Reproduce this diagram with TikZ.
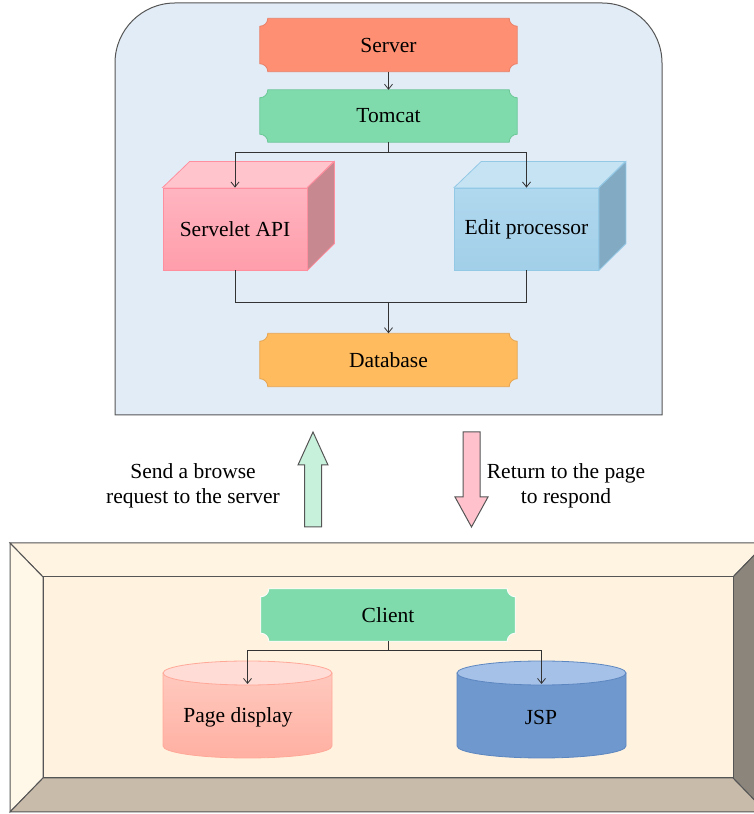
\documentclass[tikz,border=0pt]{standalone}
\usepackage{fontspec}
\setmainfont{Liberation Serif}
\usetikzlibrary{arrows.meta,calc}
\pgfdeclarelayer{back}
\pgfdeclarelayer{mid}
\pgfsetlayers{back,mid,main}

\definecolor{panelfill}{HTML}{E2ECF7}
\definecolor{edgec}{HTML}{555555}
\definecolor{wirec}{HTML}{333333}
\definecolor{serverfill}{HTML}{FF8F73}
\definecolor{serveredge}{HTML}{E98068}
\definecolor{mint}{HTML}{7FDBAB}
\definecolor{mintedge}{HTML}{6CC797}
\definecolor{dbfill}{HTML}{FFBB5D}
\definecolor{dbedge}{HTML}{E5A553}
\definecolor{apitop}{HTML}{FFC4CC}
\definecolor{apiside}{HTML}{C88890}
\definecolor{apiedge}{HTML}{FF8E9E}
\definecolor{apihi}{HTML}{FFB5C0}
\definecolor{apilo}{HTML}{FF9DAB}
\definecolor{edtop}{HTML}{C5E3F3}
\definecolor{edside}{HTML}{82AAC3}
\definecolor{ededge}{HTML}{94C9E6}
\definecolor{edhi}{HTML}{B0D8EE}
\definecolor{edlo}{HTML}{A2CFE9}
\definecolor{pdhi}{HTML}{FFC9BE}
\definecolor{pdlo}{HTML}{FFB0A2}
\definecolor{pdtopc}{HTML}{FFDCD6}
\definecolor{pdedge}{HTML}{FFA898}
\definecolor{jspbody}{HTML}{6F98CE}
\definecolor{jsptopc}{HTML}{A6C1E8}
\definecolor{jspedge}{HTML}{5C86C0}
\definecolor{frametop}{HTML}{FFF4E1}
\definecolor{frameleft}{HTML}{FFF7E8}
\definecolor{frameright}{HTML}{8B857B}
\definecolor{framebottom}{HTML}{C9BBAA}
\definecolor{frameinner}{HTML}{FFF3E0}
\definecolor{upfill}{HTML}{C8F1DC}
\definecolor{downfill}{HTML}{FFC2CC}

\tikzset{
  txt/.style={font=\fontsize{21.5}{25}\selectfont, align=center, inner sep=0pt},
  plaquebox/.style={txt, minimum width=257pt, minimum height=53pt},
  frontface/.style={txt, minimum width=144pt, minimum height=82pt, line width=0.8pt},
  wire/.style={draw=wirec, line width=0.8pt},
  feed/.style={wire, -{Straight Barb[length=5pt,width=8pt]}},
  edge/.style={draw=edgec, line width=1pt},
}

% banner with concave corners drawn behind a node
\newcommand\plaqueshape[3]{%
  \begin{pgfonlayer}{mid}
  \filldraw[fill=#2, draw=#3, line width=0.8pt]
    ([xshift=8pt]#1.north west) -- ([xshift=-8pt]#1.north east)
    arc[start angle=180, end angle=270, radius=8pt]
    -- ([yshift=8pt]#1.south east)
    arc[start angle=90, end angle=180, radius=8pt]
    -- ([xshift=8pt]#1.south west)
    arc[start angle=0, end angle=90, radius=8pt]
    -- ([yshift=-8pt]#1.north west)
    arc[start angle=270, end angle=360, radius=8pt] -- cycle;
  \end{pgfonlayer}}

% top and side faces of a box whose front face is a node
\newcommand\cubefaces[4]{%
  \begin{pgfonlayer}{mid}
  \filldraw[fill=#2, draw=#4, line width=0.8pt]
    (#1.north west) -- ++(27pt,26pt) -- ++(144pt,0pt) -- (#1.north east) -- cycle;
  \filldraw[fill=#3, draw=#4, line width=0.8pt]
    (#1.north east) -- ++(27pt,26pt) -- ++(0pt,-82pt) -- (#1.south east) -- cycle;
  \end{pgfonlayer}}

% upright cylinder: centre x, top y, bottom y, radii, body colours, lid, edge
\newcommand\drum[8]{%
  \shade[top color=#5, bottom color=#6, draw=#8, line width=0.8pt]
    (#1-#4, #2) -- (#1-#4, #3)
    arc[start angle=180, end angle=360, x radius=#4pt, y radius=12pt]
    -- (#1+#4, #2) -- cycle;
  \filldraw[fill=#7, draw=#8, line width=0.8pt]
    (#1, #2) ellipse [x radius=#4pt, y radius=12pt];}

\begin{document}
\begin{tikzpicture}[x=1pt, y=1pt]
\useasboundingbox (0,0) rectangle (754,814);

\begin{pgfonlayer}{back}
% server panel
\filldraw[fill=panelfill, edge]
  (115,399) [rounded corners=60pt] -- (115,811) -- (662,811)
  [sharp corners] -- (662,399) -- cycle;
% bevelled client frame
\begin{scope}
\clip (0,0) rectangle (754,814);
\filldraw[fill=frametop, edge] (10,271) -- (766,271) -- (733,237) -- (43,237) -- cycle;
\filldraw[fill=frameleft, edge] (10,271) -- (43,237) -- (43,36) -- (10,2) -- cycle;
\filldraw[fill=frameright, edge] (766,271) -- (766,2) -- (733,36) -- (733,237) -- cycle;
\filldraw[fill=framebottom, edge] (10,2) -- (766,2) -- (733,36) -- (43,36) -- cycle;
\filldraw[fill=frameinner, edge] (43,36) rectangle (733,237);
\end{scope}
\end{pgfonlayer}

\node[plaquebox] (server) at (388.5,769) {Server};
\plaqueshape{server}{serverfill}{serveredge}
\node[plaquebox, minimum height=52pt] (tomcat) at (388.5,698) {Tomcat};
\plaqueshape{tomcat}{mint}{mintedge}
\node[plaquebox] (db) at (388.5,454) {Database};
\plaqueshape{db}{dbfill}{dbedge}

\node[frontface, top color=apihi, bottom color=apilo, draw=apiedge] (api) at (235,585) {Servelet API};
\cubefaces{api}{apitop}{apiside}{apiedge}
\node[frontface, top color=edhi, bottom color=edlo, draw=ededge] (edit) at (526.5,585) {Edit processor};
\cubefaces{edit}{edtop}{edside}{ededge}

\draw[feed] (server.south) -- (tomcat.north);
\coordinate (tsplit) at (388.5,662);
\draw[wire] (tomcat.south) -- (tsplit);
\draw[feed] (tsplit) -| (api.north);
\draw[feed] (tsplit) -| (edit.north);
\coordinate (join) at (388.5,512);
\draw[wire] (api.south) |- (join);
\draw[wire] (edit.south) |- (join);
\draw[feed] (join) -- (db.north);

% request / response arrows
\filldraw[fill=upfill, edge]
  (304.5,287) -- (304.5,349) -- (298,349) -- (313,382) -- (328,349)
  -- (321.5,349) -- (321.5,287) -- cycle;
\filldraw[fill=downfill, edge]
  (463,382) -- (463,317) -- (455,317) -- (471.5,287) -- (488,317)
  -- (480,317) -- (480,382) -- cycle;
\node[txt] (send) at (193,328) {Send a browse\\request to the server};
\node[txt] (ret) at (566,328) {Return to the page\\to respond};

\node[plaquebox, minimum width=254pt, minimum height=52pt] (client) at (388,199) {Client};
\plaqueshape{client}{mint}{white}

\drum{247.5}{141}{68}{84.5}{pdhi}{pdlo}{pdtopc}{pdedge}
\drum{541.5}{141}{68}{84.5}{jspbody}{jspbody}{jsptopc}{jspedge}
\node[txt] (page) at (238,97) {Page display};
\node[txt] (jsp) at (541,97) {JSP};

\coordinate (pdtop) at (247.5,130);
\coordinate (jsptop) at (541.5,130);
\coordinate (csplit) at (388,164);
\draw[wire] (client.south) -- (csplit);
\draw[feed] (csplit) -| (pdtop);
\draw[feed] (csplit) -| (jsptop);
\end{tikzpicture}
\end{document}
